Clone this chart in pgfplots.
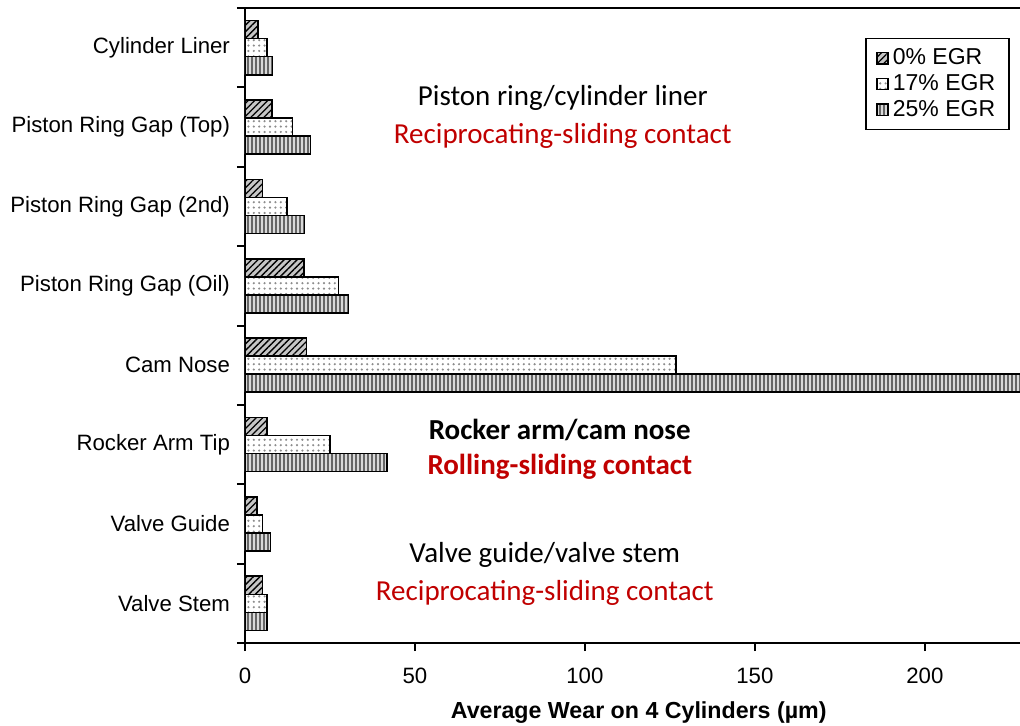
\documentclass[border=0pt]{standalone}
\usepackage{fontspec}
\setmainfont{Liberation Sans}
\newfontfamily\calibri{Carlito}
\usepackage{pgfplots}
\pgfplotsset{compat=1.18}
\usetikzlibrary{patterns.meta}
\definecolor{contactred}{RGB}{192,0,0}

\begin{document}
\begin{tikzpicture}
\begin{axis}[
  name=ax,
  at={(0,0)}, anchor=south west,
  scale only axis,
  width=387.5pt, height=317.5pt,
  xbar, bar width=0.227,
  xmin=0, xmax=228,
  ymin=-0.5, ymax=7.5,
  axis x line=bottom, axis y line=left,
  axis line style={-, line width=1pt},
  every outer x axis line/.append style={-},
  every outer y axis line/.append style={-},
  /pgf/number format/assume math mode=true,
  font=\fontsize{11.1}{13}\selectfont,
  tick align=outside,
  major tick length=4pt,
  tick style={line width=1pt, black},
  xtick={0,50,...,200},
  ytick={-0.5,0.5,...,7.5},
  yticklabels={},
  extra y ticks={0,1,...,7},
  extra y tick labels={Valve Stem, Valve Guide, Rocker Arm Tip, Cam Nose,
    Piston Ring Gap (Oil), Piston Ring Gap (2nd), Piston Ring Gap (Top), Cylinder Liner},
  extra y tick style={tick style={draw=none}},
  xticklabel style={yshift=-5pt},
  xlabel={\bfseries\fontsize{11.6}{13}\selectfont Average Wear on 4 Cylinders (µm)},
  xlabel style={at={(axis description cs:0.508,0)}, anchor=center, yshift=-35pt},
  legend cell align=left,
  legend style={at={(rel axis cs:0.987,0.953)}, anchor=north east,
    draw=black, line width=0.8pt, font=\fontsize{11.5}{13}\selectfont,
    row sep=-0.6pt, inner xsep=5pt, inner ysep=3pt},
  legend image code/.code={\draw[#1] (0pt,-2.8pt) rectangle (5.6pt,2.8pt);},
]
% 0% EGR: hatched bars on top of each group
\addplot[bar shift=0.227, draw=black, line width=0.8pt, fill=gray!45,
  postaction={pattern={Lines[angle=45,distance=2.3pt,line width=0.65pt]}, pattern color=black}]
  coordinates {(5.2,0) (3.6,1) (6.4,2) (18.1,3) (17.4,4) (5.1,5) (8.0,6) (3.8,7)};
% 17% EGR: dotted bars in the middle
\addplot[bar shift=0, draw=black, line width=0.8pt, fill=white,
  postaction={pattern={Dots[distance=2.7pt,radius=0.6pt]}, pattern color=black!45}]
  coordinates {(6.4,0) (5.2,1) (25.0,2) (126.8,3) (27.5,4) (12.3,5) (14.0,6) (6.4,7)};
% 25% EGR: vertically striped bars at the bottom
\addplot[bar shift=-0.227, draw=black, line width=0.8pt, fill=gray!30,
  postaction={pattern={Lines[angle=90,distance=2pt,line width=1pt]}, pattern color=black!60}]
  coordinates {(6.4,0) (7.5,1) (41.7,2) (240,3) (30.4,4) (17.5,5) (19.3,6) (8.1,7)};
\legend{0\% EGR, 17\% EGR, 25\% EGR}

\node[font=\calibri\fontsize{14.5}{17}\selectfont, anchor=center] at (axis cs:93.5,6.364) {Piston ring/cylinder liner};
\node[font=\calibri\fontsize{14.5}{17}\selectfont, text=contactred, anchor=center] at (axis cs:93.5,5.885) {Reciprocating-sliding contact};
\node[font=\calibri\bfseries\fontsize{14.5}{17}\selectfont, anchor=center] at (axis cs:92.6,2.18) {Rocker arm/cam nose};
\node[font=\calibri\bfseries\fontsize{14.5}{17}\selectfont, text=contactred, anchor=center] at (axis cs:92.6,1.717) {Rolling-sliding contact};
\node[font=\calibri\fontsize{14.5}{17}\selectfont, anchor=center] at (axis cs:88.2,0.608) {Valve guide/valve stem};
\node[font=\calibri\fontsize{14.5}{17}\selectfont, text=contactred, anchor=center] at (axis cs:88.2,0.13) {Reciprocating-sliding contact};
\end{axis}
\draw[line width=1pt] (ax.north west) -- (ax.north east);
\pgfresetboundingbox
\path (-122.5pt,-41.5pt) rectangle (387.5pt,321.5pt);
\end{tikzpicture}
\end{document}
